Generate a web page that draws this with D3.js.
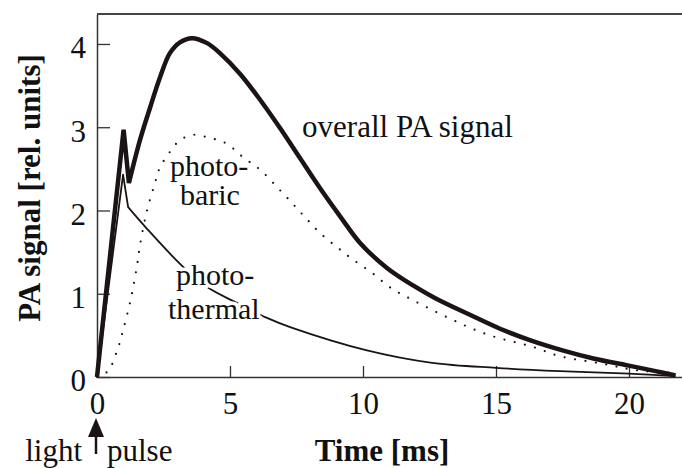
<!DOCTYPE html>
<html>
<head>
<meta charset="utf-8">
<script src="https://cdn.jsdelivr.net/npm/d3@7"></script>
<style>
  html, body { margin: 0; padding: 0; background: #fff; }
  svg { display: block; }
</style>
</head>
<body>
<div id="chart"></div>
<script>
// time ticks [ms] and signal ticks [rel. units]
const timeTicks = [0, 5, 10, 15, 20];
const signalTicks = [0, 1, 2, 3, 4];

// [time ms, signal]
const overall = [
  [0, 0], [1.0, 2.97], [1.2, 2.33], [1.62, 2.85], [2.0, 3.24], [2.37, 3.6],
  [2.74, 3.89], [3.12, 4.02], [3.57, 4.07], [4.14, 4.01], [4.62, 3.89],
  [5.38, 3.64], [6.13, 3.33], [6.88, 2.99], [7.63, 2.63], [8.38, 2.27],
  [9.14, 1.93], [9.89, 1.61], [10.9, 1.31], [11.88, 1.1], [12.7, 0.95],
  [14.0, 0.75], [15.15, 0.58], [16.3, 0.44], [17.5, 0.32], [18.7, 0.22],
  [19.95, 0.14], [21.0, 0.07], [21.75, 0.02]
];
const photothermal = [
  [0, 0], [0.98, 2.43], [1.17, 2.04], [1.88, 1.78], [3.15, 1.35],
  [4.14, 1.08], [5.26, 0.89], [6.39, 0.71], [7.26, 0.6], [10.15, 0.32],
  [12.6, 0.17], [15.0, 0.11], [17.4, 0.07], [20.0, 0.04], [21.75, 0.01]
];
const photobaric = [
  [0, 0], [0.41, 0.07], [0.75, 0.31], [0.98, 0.56], [1.28, 0.95], [1.5, 1.33],
  [1.62, 1.59], [1.88, 2.0], [2.18, 2.33], [2.37, 2.52], [2.71, 2.69],
  [3.0, 2.81], [3.31, 2.88], [3.68, 2.91], [4.14, 2.88], [4.5, 2.85],
  [4.89, 2.8], [5.49, 2.64], [6.13, 2.49], [6.77, 2.28], [7.33, 2.09],
  [7.82, 1.92], [8.38, 1.73], [9.02, 1.56], [9.62, 1.41], [10.34, 1.25],
  [11.0, 1.08], [11.65, 0.96], [14.5, 0.53], [16.4, 0.36], [17.4, 0.25],
  [19.0, 0.16], [20.3, 0.08], [21.85, 0.05]
];

const W = 682, H = 468;
const margin = { t: 14, l: 97, b: 91 };
const font = "'Liberation Serif', 'Times New Roman', serif";
const ink = "#1c1414";

const svg = d3.select("#chart").append("svg")
  .attr("width", W)
  .attr("height", H)
  .attr("font-family", font);

// scales
const x = d3.scaleLinear().domain([0, 22]).range([margin.l, margin.l + 22 * 26.6]);
const y = d3.scaleLinear().domain([0, 4.36]).range([H - margin.b, margin.t]);

// axes, ticks point inward
const axisY = d3.axisLeft(y)
  .tickValues(signalTicks)
  .tickFormat(d3.format("d"))
  .tickSizeInner(-13)
  .tickSizeOuter(0)
  .tickPadding(11);

const axisX = d3.axisBottom(x)
  .tickValues(timeTicks)
  .tickFormat(d3.format("d"))
  .tickSizeInner(-11)
  .tickSizeOuter(0)
  .tickPadding(15);

const gy = svg.append("g")
  .attr("transform", `translate(${x(0)},0)`)
  .call(axisY);

const gx = svg.append("g")
  .attr("transform", `translate(0,${y(0)})`)
  .call(axisX);

[gx, gy].forEach((g) => {
  g.select(".domain").attr("stroke", "#333").attr("stroke-width", 1.5);
  g.selectAll(".tick line").attr("stroke", "#333").attr("stroke-width", 1.3);
  g.selectAll(".tick text")
    .attr("font-family", font)
    .attr("font-size", 31)
    .attr("fill", "#111");
});
gy.selectAll(".tick text").attr("dy", "0.45em");

// top frame line
svg.append("line")
  .attr("x1", x(0)).attr("x2", x(22))
  .attr("y1", y(4.36)).attr("y2", y(4.36))
  .attr("stroke", "#444")
  .attr("stroke-width", 2);

// axis titles
svg.append("text")
  .attr("transform", `translate(40,${188}) rotate(-90)`)
  .attr("text-anchor", "middle")
  .attr("font-size", 31)
  .attr("font-weight", "bold")
  .attr("fill", "#111")
  .text("PA signal [rel. units]");

svg.append("text")
  .attr("x", 382).attr("y", 461)
  .attr("text-anchor", "middle")
  .attr("font-size", 31)
  .attr("font-weight", "bold")
  .attr("fill", "#111")
  .text("Time [ms]");

// light pulse arrow
const ax0 = x(0) - 1;
svg.append("line")
  .attr("x1", ax0).attr("x2", ax0)
  .attr("y1", 454).attr("y2", 430)
  .attr("stroke", ink).attr("stroke-width", 2.5);
svg.append("path")
  .attr("d", `M${ax0},418 L${ax0 - 8},437 L${ax0 + 8},437 Z`)
  .attr("fill", ink);
svg.append("text")
  .attr("x", ax0 - 14).attr("y", 461)
  .attr("text-anchor", "end")
  .attr("font-size", 31)
  .attr("fill", "#111")
  .text("light");
svg.append("text")
  .attr("x", ax0 + 11).attr("y", 461)
  .attr("font-size", 31)
  .attr("fill", "#111")
  .text("pulse");

// line generators: sharp start, smooth decay
const lin = d3.line().x((d) => x(d[0])).y((d) => y(d[1]));
const smooth = d3.line().x((d) => x(d[0])).y((d) => y(d[1])).curve(d3.curveCatmullRom.alpha(0.5));
const kinked = (data, k) => lin(data.slice(0, k + 1)) + "L" + smooth(data.slice(k)).slice(1);

// photobaric (dotted)
svg.append("path")
  .attr("d", smooth(photobaric))
  .attr("fill", "none")
  .attr("stroke", ink)
  .attr("stroke-width", 2.2)
  .attr("stroke-linecap", "round")
  .attr("stroke-dasharray", "0 10.5");

// photothermal (thin)
svg.append("path")
  .attr("d", kinked(photothermal, 2))
  .attr("fill", "none")
  .attr("stroke", ink)
  .attr("stroke-width", 1.8)
  .attr("stroke-linejoin", "round");

// overall (thick)
svg.append("path")
  .attr("d", kinked(overall, 2))
  .attr("fill", "none")
  .attr("stroke", ink)
  .attr("stroke-width", 4.5)
  .attr("stroke-linejoin", "miter");

// curve labels
const labels = svg.append("g")
  .attr("fill", "#111");

const addLabel = (lines, t, v, size, lh, halo) => {
  const tx = labels.append("text")
    .attr("font-size", size)
    .attr("x", x(t)).attr("y", y(v));
  if (halo) {
    tx.attr("stroke", "#fff").attr("stroke-width", 7)
      .attr("paint-order", "stroke").attr("stroke-linejoin", "round");
  }
  lines.forEach((s, i) => {
    tx.append("tspan")
      .attr("x", x(t) + s[1])
      .attr("dy", i === 0 ? 0 : lh)
      .text(s[0]);
  });
};

addLabel([["overall PA signal", 0]], 7.71, 2.88, 31, 0, false);
addLabel([["photo-", 0], ["baric", 10]], 2.74, 2.42, 30, 29, false);
addLabel([["photo-", 8], ["thermal", 0]], 2.67, 1.105, 30, 34, true);
</script>
</body>
</html>
